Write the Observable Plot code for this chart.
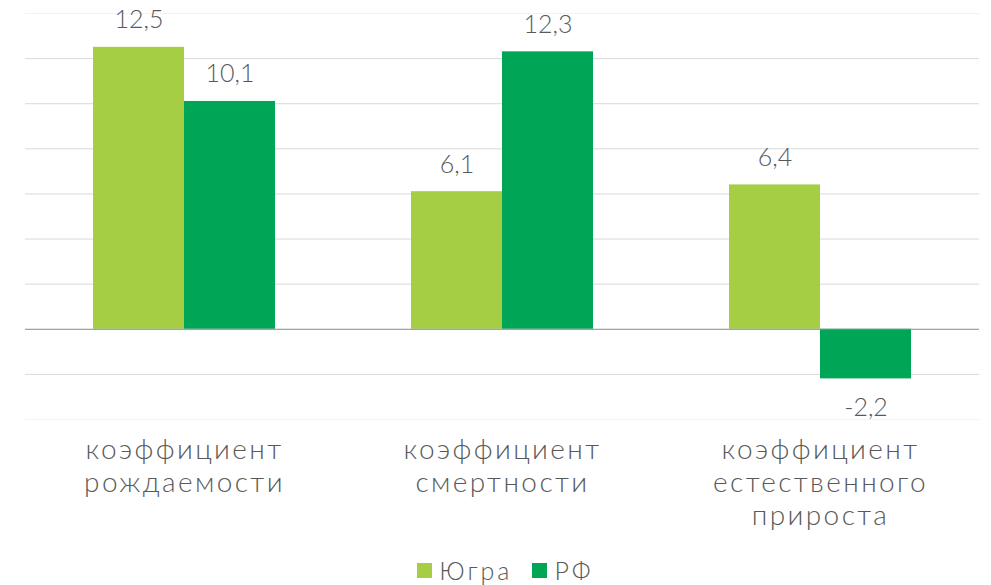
<!DOCTYPE html>
<html>
<head>
<meta charset="utf-8">
<script src="https://cdn.jsdelivr.net/npm/d3@7"></script>
<script src="https://cdn.jsdelivr.net/npm/@observablehq/plot@0.6"></script>
<style>
  body { margin: 0; background: #fff; font-family: Lato, sans-serif; }
  #legend { display: flex; justify-content: center; align-items: center; height: 40px; gap: 20px; color: #595959; font-size: 25px; line-height: 1; font-weight: 300; letter-spacing: 3px; padding-left: 20px; }
  #legend .item { display: flex; align-items: center; gap: 7px; }
  #legend .sw { width: 15px; height: 15px; display: inline-block; }
  #chart g[aria-label="fx-axis tick label"] text { letter-spacing: 2.4px; }
</style>
</head>
<body>
<div id="chart"></div>
<div id="legend"></div>
<script>
const categories = ["коэффициент\nрождаемости", "коэффициент\nсмертности", "коэффициент\nестественного\nприроста"];
const series = ["Югра", "РФ"];
const yugraValues = [12.5, 6.1, 6.4];
const rfValues = [10.1, 12.3, -2.2];
const colors = ["#A6CE45", "#00A555"];
const gridTicks = [-2, 0, 2, 4, 6, 8, 10, 12];
const edgeTicks = [-4, 14];

const data = [];
categories.forEach((c, i) => {
  data.push({cat: c, series: series[0], value: yugraValues[i]});
  data.push({cat: c, series: series[1], value: rfValues[i]});
});

const fmt = v => String(v).replace(".", ",");
const textColor = "#595959";

const chart = Plot.plot({
  width: 991,
  height: 550,
  marginTop: 13,
  marginBottom: 131,
  marginLeft: 25,
  marginRight: 12,
  style: {fontFamily: "Lato, sans-serif", fontWeight: 300, color: textColor, background: "#fff"},
  fx: {domain: categories, padding: 0, label: null},
  x: {domain: series, paddingInner: 0, paddingOuter: 0.747, axis: null},
  y: {domain: [-4, 14], axis: null},
  color: {domain: series, range: colors},
  marks: [
    Plot.ruleY(edgeTicks, {stroke: "#f2f2f2", strokeWidth: 1}),
    Plot.ruleY(gridTicks.filter(d => d !== 0), {stroke: "#d9d9d9", strokeWidth: 1}),
    Plot.barY(data, {fx: "cat", x: "series", y: "value", fill: "series"}),
    Plot.ruleY([0], {stroke: "#898989", strokeWidth: 1}),
    Plot.text(data.filter(d => d.value >= 0), {fx: "cat", x: "series", y: "value", text: d => fmt(d.value), dy: -27, lineAnchor: "middle", fontSize: 25, fill: textColor}),
    Plot.text(data.filter(d => d.value < 0), {fx: "cat", x: "series", y: "value", text: d => fmt(d.value), dy: 29, lineAnchor: "middle", fontSize: 25, fill: textColor}),
    Plot.axisFx({anchor: "bottom", tickSize: 0, tickPadding: 16, fontSize: 28, lineHeight: 1.18, fill: textColor, label: null, textOverflow: null})
  ]
});
document.getElementById("chart").appendChild(chart);

const legend = document.getElementById("legend");
series.forEach((s, i) => {
  const item = document.createElement("span");
  item.className = "item";
  const sw = document.createElement("span");
  sw.className = "sw";
  sw.style.background = colors[i];
  const t = document.createElement("span");
  t.textContent = s;
  item.appendChild(sw);
  item.appendChild(t);
  legend.appendChild(item);
});
</script>
</body>
</html>
